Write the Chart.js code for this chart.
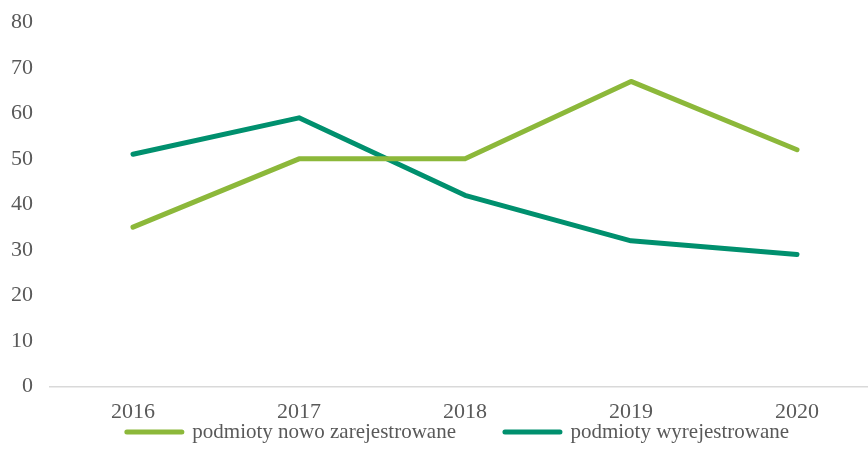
<!DOCTYPE html>
<html>
<head>
<meta charset="utf-8">
<script src="https://cdn.jsdelivr.net/npm/chart.js@4.4.1/dist/chart.umd.min.js"></script>
<style>
    html, body { margin: 0; padding: 0; background: #fff; overflow: hidden; }
    #wrap { width: 910px; height: 471px; position: relative; }
</style>
</head>
<body>
<div id="wrap"><canvas id="lineChart"></canvas></div>
<script>
const years = ["2016", "2017", "2018", "2019", "2020"];
const noweValues = [35, 50, 50, 67, 52];
const wyrejValues = [51, 59, 42, 32, 29];
const yTicks = [0, 10, 20, 30, 40, 50, 60, 70, 80];

const GREEN = "#8cb83a";
const TEAL = "#00906e";
const TEXT = "#595959";
const SERIF = "'Liberation Serif', 'Times New Roman', serif";
const LEGEND_GAP = 49;

// legenda: duzy odstep miedzy pozycjami, ale bez zabierania miejsca w pionie
const legendFix = {
    id: "legendFix",
    afterInit(chart) {
        const lg = chart.legend;
        const fit = lg.fit.bind(lg);
        lg.fit = function () {
            fit();
            this.height = 40;
        };
    },
    afterLayout(chart) {
        const lg = chart.legend;
        lg.top = 432 - 10.5 - LEGEND_GAP;
        lg.left += 18;
        lg.right += 18;
    }
};

document.addEventListener("DOMContentLoaded", () => {
    const ctx = document.getElementById("lineChart").getContext("2d");

    new Chart(ctx, {
        type: "line",
        data: {
            labels: years,
            datasets: [{
                label: "podmioty nowo zarejestrowane",
                data: noweValues,
                borderColor: GREEN,
                backgroundColor: GREEN,
                borderWidth: 5,
                borderCapStyle: "round",
                borderJoinStyle: "round",
                pointRadius: 0,
                tension: 0
            }, {
                label: "podmioty wyrejestrowane",
                data: wyrejValues,
                borderColor: TEAL,
                backgroundColor: TEAL,
                borderWidth: 5,
                borderCapStyle: "round",
                borderJoinStyle: "round",
                pointRadius: 0,
                tension: 0
            }]
        },
        plugins: [legendFix],
        options: {
            responsive: true,
            maintainAspectRatio: false,
            animation: false,
            layout: { padding: { top: 11, right: 30, left: 0, bottom: 2 } },
            plugins: {
                tooltip: { enabled: false },
                legend: {
                    position: "bottom",
                    labels: {
                        color: TEXT,
                        font: { family: SERIF, size: 21 },
                        padding: LEGEND_GAP,
                        usePointStyle: true,
                        pointStyleWidth: 55,
                        boxHeight: 5,
                        generateLabels: chart => chart.data.datasets.map((ds, i) => ({
                            text: ds.label,
                            fillStyle: ds.borderColor,
                            strokeStyle: ds.borderColor,
                            lineWidth: 5,
                            lineCap: "round",
                            pointStyle: "line",
                            fontColor: TEXT,
                            datasetIndex: i,
                            hidden: false
                        }))
                    }
                }
            },
            scales: {
                x: {
                    offset: true,
                    grid: { display: false },
                    border: { display: true, color: "#d9d9d9", width: 1.5 },
                    ticks: {
                        color: TEXT,
                        padding: 4,
                        font: { family: SERIF, size: 22 }
                    }
                },
                y: {
                    min: 0,
                    max: 80,
                    afterBuildTicks: scale => { scale.ticks = yTicks.map(v => ({ value: v })); },
                    afterFit: scale => { scale.width = 50; },
                    grid: { display: false },
                    border: { display: false },
                    ticks: {
                        color: TEXT,
                        padding: 9,
                        font: { family: SERIF, size: 22 }
                    }
                }
            }
        }
    });
});
</script>
</body>
</html>
